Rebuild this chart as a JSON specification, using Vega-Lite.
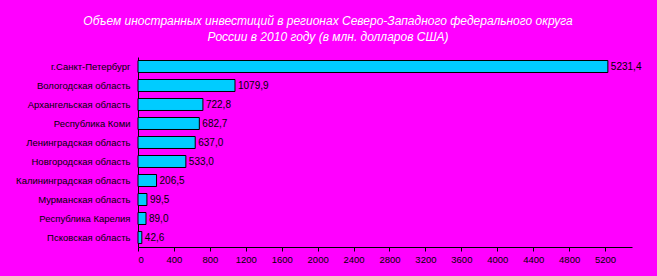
{
  "$schema": "https://vega.github.io/schema/vega-lite/v6.json",
  "width": 494,
  "height": 190,
  "autosize": "none",
  "padding": {"left": 138, "top": 57, "right": 25, "bottom": 29},
  "background": "#FF00FF",
  "config": {
    "view": {"stroke": null},
    "locale": {"number": {"decimal": ",", "thousands": " ", "grouping": [3], "currency": ["", ""]}},
    "font": "Liberation Sans"
  },
  "title": {
    "text": ["Объем иностранных инвестиций в регионах Северо-Западного федерального округа", "России в 2010 году (в млн. долларов США)"],
    "color": "#ffffff",
    "fontSize": 12,
    "fontStyle": "italic",
    "fontWeight": "normal",
    "lineHeight": 16,
    "anchor": "middle",
    "dx": -57,
    "offset": 13
  },
  "data": {
    "values": [
      {"region": "г.Санкт-Петербург", "value": 5231.4},
      {"region": "Вологодская область", "value": 1079.9},
      {"region": "Архангельская область", "value": 722.8},
      {"region": "Республика Коми", "value": 682.7},
      {"region": "Ленинградская область", "value": 637.0},
      {"region": "Новгородская область", "value": 533.0},
      {"region": "Калининградская область", "value": 206.5},
      {"region": "Мурманская область", "value": 99.5},
      {"region": "Республика Карелия", "value": 89.0},
      {"region": "Псковская область", "value": 42.6}
    ]
  },
  "encoding": {
    "y": {
      "field": "region",
      "type": "nominal",
      "sort": null,
      "title": null,
      "scale": {"paddingInner": 0.37, "paddingOuter": 0.185},
      "axis": {
        "ticks": false,
        "labelPadding": 8,
        "labelFontSize": 9.5,
        "labelColor": "#000000",
        "domainColor": "#000000",
        "domainWidth": 1,
        "labelLimit": 200
      }
    },
    "x": {
      "field": "value",
      "type": "quantitative",
      "title": null,
      "scale": {"domain": [0, 5500], "nice": false},
      "axis": {
        "values": [0, 400, 800, 1200, 1600, 2000, 2400, 2800, 3200, 3600, 4000, 4400, 4800, 5200],
        "format": "d",
        "grid": false,
        "tickSize": 4,
        "tickColor": "#000000",
        "domainColor": "#000000",
        "labelColor": "#000000",
        "labelFontSize": 9.5,
        "labelPadding": 3
      }
    }
  },
  "layer": [
    {
      "mark": {"type": "bar", "fill": "#00CCFF", "stroke": "#000000", "strokeWidth": 1}
    },
    {
      "mark": {"type": "text", "align": "left", "baseline": "middle", "dx": 3, "fontSize": 10, "color": "#000000"},
      "encoding": {"text": {"field": "value", "type": "quantitative", "format": ".1f"}}
    }
  ]
}
